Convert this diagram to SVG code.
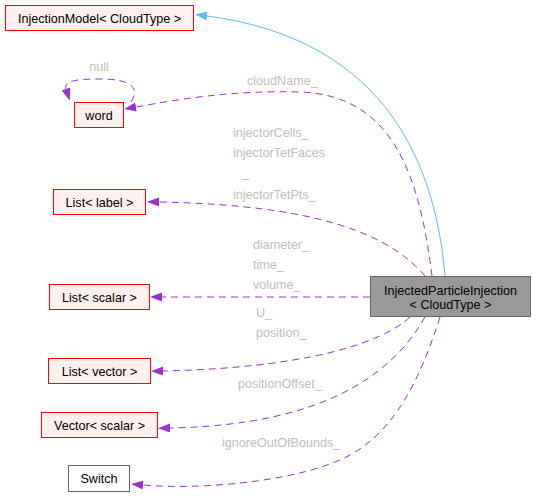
<svg xmlns="http://www.w3.org/2000/svg" width="536" height="496" viewBox="0 0 536 496">
<style>
text{font-family:"Liberation Sans",Arial,sans-serif;font-size:12.6px}
.n text{fill:#000;text-anchor:middle}
.red{fill:#fff0f0;stroke:#ff0000;stroke-width:1}
.gray{fill:#ffffff;stroke:#666666;stroke-width:1}
.main{fill:#999999;stroke:#666666;stroke-width:1}
.e{fill:none;stroke:#9a32cd;stroke-width:1;stroke-dasharray:7,5}
.inh{fill:none;stroke:#63b8ff;stroke-width:1}
.lbl{fill:#bebebe}
</style>
<defs>
<marker id="ap" markerWidth="12" markerHeight="10" refX="0" refY="4.5" orient="auto" markerUnits="userSpaceOnUse"><path d="M0,0 L12,4.5 L0,9 Z" fill="#9a32cd"/></marker>
<marker id="ab" markerWidth="12" markerHeight="10" refX="0" refY="4.5" orient="auto" markerUnits="userSpaceOnUse"><path d="M0,0 L12,4.5 L0,9 Z" fill="#63b8ff"/></marker>
</defs>
<rect width="536" height="496" fill="#ffffff"/>
<g id="edges">
<path class="inh" d="M445,276 C436,170 390,40 207,16" marker-end="url(#ab)"/>
<path class="e" d="M432,276 C420,180 395,95 300,92 C230,90 175,100 136,107" marker-end="url(#ap)"/>
<path class="e" d="M131,102 C140,88 132,79 100,79 C80,79 63,80 66,89" marker-end="url(#ap)"/>
<path class="e" d="M425,276 C390,235 320,205 159,202" marker-end="url(#ap)"/>
<path class="e" d="M370,297 L162,297" marker-end="url(#ap)"/>
<path class="e" d="M410,317 C380,345 300,368 163,371" marker-end="url(#ap)"/>
<path class="e" d="M425,317 C395,370 330,425 170,428" marker-end="url(#ap)"/>
<path class="e" d="M440,317 C420,380 395,430 350,455 C300,482 200,490 143,485" marker-end="url(#ap)"/>
</g>
<g id="labels" class="lbl">
<text x="99" y="71" text-anchor="middle">null</text>
<text x="247" y="85">cloudName_</text>
<text x="233" y="137">injectorCells_</text>
<text x="233" y="157">injectorTetFaces</text>
<text x="242" y="177">_</text>
<text x="233" y="199">injectorTetPts_</text>
<text x="253" y="249">diameter_</text>
<text x="253" y="269">time_</text>
<text x="253" y="289">volume_</text>
<text x="256" y="317">U_</text>
<text x="256" y="337">position_</text>
<text x="238" y="388">positionOffset_</text>
<text x="222" y="447">ignoreOutOfBounds_</text>
</g>
<g id="n_main" class="n"><rect class="main" x="370.5" y="276.5" width="160" height="40"/><text x="450.5" y="294.5">InjectedParticleInjection</text><text x="450.5" y="309">&lt; CloudType &gt;</text></g>
<g id="n_injectionmodel" class="n"><rect class="red" x="5.5" y="5.5" width="188" height="25"/><text x="99.5" y="22.5">InjectionModel&lt; CloudType &gt;</text></g>
<g id="n_word" class="n"><rect class="red" x="74.5" y="102.5" width="49" height="25"/><text x="99" y="119.5">word</text></g>
<g id="n_list_label" class="n"><rect class="red" x="53.5" y="189.5" width="92" height="25"/><text x="99.5" y="206.5">List&lt; label &gt;</text></g>
<g id="n_list_scalar" class="n"><rect class="red" x="49.5" y="284.5" width="100" height="25"/><text x="99.5" y="301.5">List&lt; scalar &gt;</text></g>
<g id="n_list_vector" class="n"><rect class="red" x="48.5" y="358.5" width="102" height="25"/><text x="99.5" y="375.5">List&lt; vector &gt;</text></g>
<g id="n_vector_scalar" class="n"><rect class="red" x="41.5" y="412.5" width="116" height="25"/><text x="99.5" y="429.5">Vector&lt; scalar &gt;</text></g>
<g id="n_switch" class="n"><rect class="gray" x="68.5" y="465.5" width="61" height="26"/><text x="99" y="483">Switch</text></g>
</svg>
